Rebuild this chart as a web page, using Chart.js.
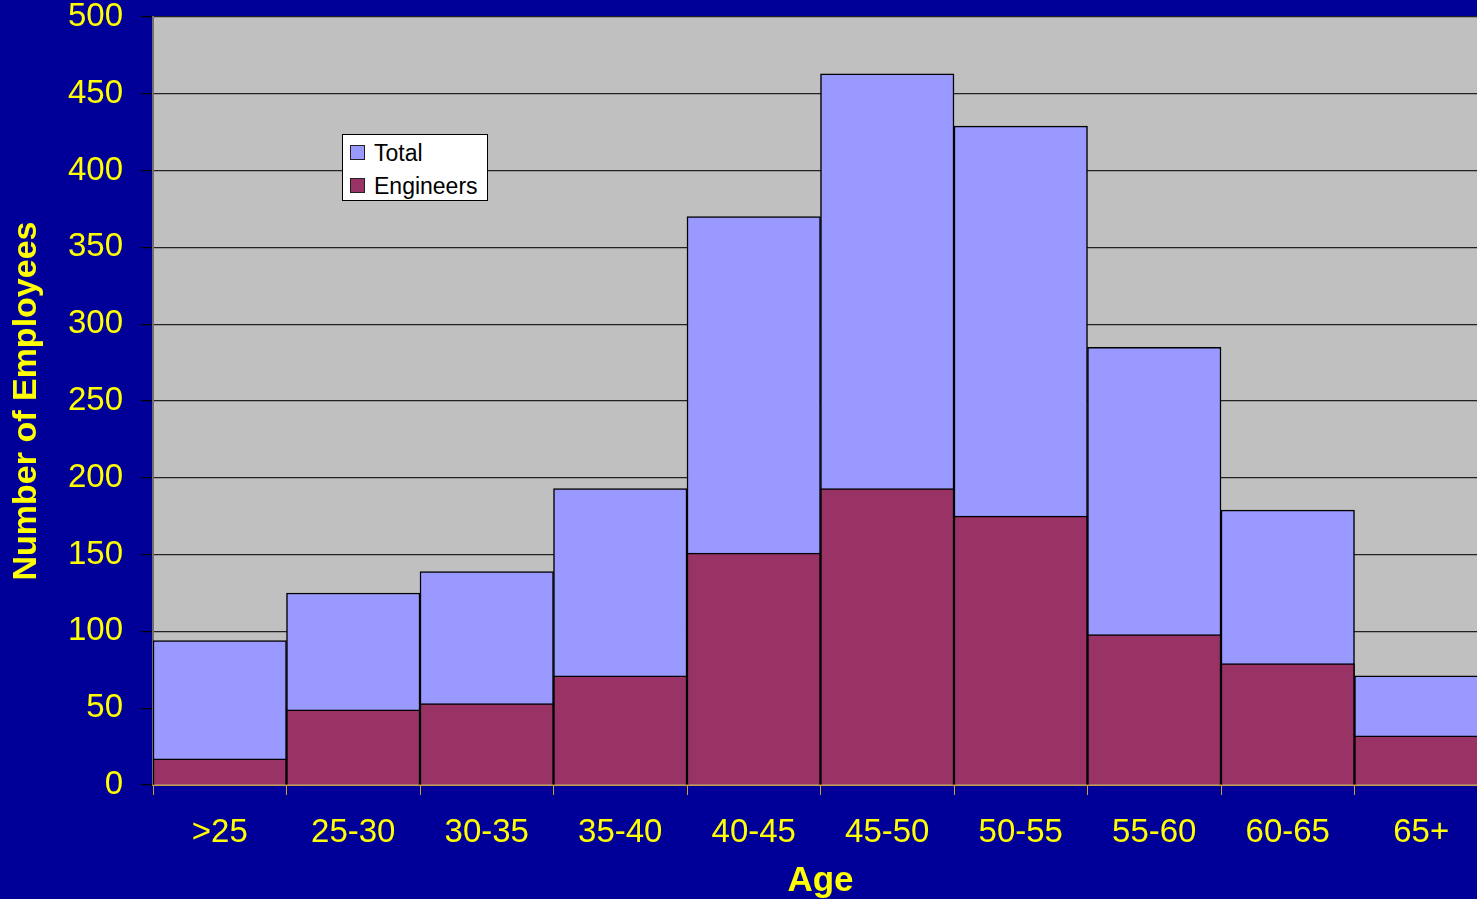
<!DOCTYPE html>
<html>
<head>
<meta charset="utf-8">
<script src="https://cdn.jsdelivr.net/npm/chart.js@4/dist/chart.umd.min.js"></script>
<style>
  html, body { margin: 0; padding: 0; background: #000099; overflow: hidden; }
  #wrap { position: absolute; left: 0; top: 0; width: 1488px; height: 899px; }
  #legend {
    position: absolute; left: 342px; top: 134px; width: 144px; height: 65px;
    background: #fff; border: 1px solid #000;
    font-family: "Liberation Sans", Arial, sans-serif; font-size: 23px; color: #000;
  }
  #legend .item { position: absolute; left: 7px; height: 24px; line-height: 24px; white-space: nowrap; }
  #legend .box { display: inline-block; width: 13px; height: 13px; border: 1px solid #222; vertical-align: middle; margin-right: 9px; position: relative; top: -2px; }
</style>
</head>
<body>
<div id="wrap"><canvas id="ages"></canvas></div>
<div id="legend"></div>
<script>
  const ageGroups = ['>25', '25-30', '30-35', '35-40', '40-45', '45-50', '50-55', '55-60', '60-65', '65+'];
  const totalEmployees = [94, 125, 139, 193, 370, 463, 429, 285, 179, 71];
  const engineers = [17, 49, 53, 71, 151, 193, 175, 98, 79, 32];

  const font = '"Liberation Sans", Arial, sans-serif';
  const yellow = '#FFFF00';

  // gray plot area behind the bars
  const plotBackground = {
    id: 'plotBackground',
    beforeDraw(chart) {
      const { ctx, chartArea } = chart;
      ctx.save();
      ctx.fillStyle = '#C0C0C0';
      ctx.fillRect(chartArea.left, chartArea.top, chartArea.right - chartArea.left, chartArea.bottom - chartArea.top);
      ctx.restore();
    }
  };

  const chart = new Chart(document.getElementById('ages'), {
    type: 'bar',
    data: {
      labels: ageGroups,
      datasets: [
        {
          label: 'Total',
          data: totalEmployees,
          backgroundColor: '#9999FF',
          borderColor: '#000',
          borderWidth: 1.5,
          order: 1
        },
        {
          label: 'Engineers',
          data: engineers,
          backgroundColor: '#993366',
          borderColor: '#000',
          borderWidth: 1.5,
          order: 0
        }
      ]
    },
    options: {
      responsive: true,
      maintainAspectRatio: false,
      animation: false,
      layout: { padding: 0 },
      datasets: { bar: { categoryPercentage: 1, barPercentage: 1 } },
      plugins: {
        legend: { display: false },
        tooltip: { enabled: false }
      },
      scales: {
        x: {
          stacked: true,
          afterFit(scale) { scale.height = 114; },
          grid: {
            offset: true,
            drawOnChartArea: false,
            drawTicks: true,
            tickLength: 10,
            tickColor: '#D0A030'
          },
          border: { color: '#C89B3C', width: 2 },
          ticks: {
            color: yellow,
            padding: 18,
            font: { family: font, size: 33 },
            maxRotation: 0
          },
          title: {
            display: true,
            text: 'Age',
            color: yellow,
            font: { family: font, size: 35, weight: 'bold', lineHeight: 1 },
            padding: { top: 0, bottom: 0 }
          }
        },
        y: {
          stacked: false,
          min: 0,
          max: 500,
          afterFit(scale) {
            scale.width = 153;
            scale.paddingTop = 17;
            scale.paddingBottom = 0;
          },
          grid: {
            color: '#222',
            lineWidth: 1.2,
            tickLength: 12,
            tickColor: '#000'
          },
          border: { color: '#707070', width: 2 },
          ticks: {
            stepSize: 50,
            color: yellow,
            padding: 18,
            font: { family: font, size: 33, lineHeight: 1.03 }
          },
          title: {
            display: true,
            text: 'Number of Employees',
            color: yellow,
            font: { family: font, size: 34, weight: 'bold', lineHeight: 1 },
            padding: { top: 10, bottom: 0 }
          }
        }
      }
    },
    plugins: [plotBackground]
  });

  // legend box inside the plot, built from the datasets
  const legend = document.getElementById('legend');
  chart.data.datasets.forEach(function (ds, i) {
    const item = document.createElement('div');
    item.className = 'item';
    item.style.top = (6 + i * 33) + 'px';
    const box = document.createElement('span');
    box.className = 'box';
    box.style.background = ds.backgroundColor;
    item.appendChild(box);
    item.appendChild(document.createTextNode(ds.label));
    legend.appendChild(item);
  });
</script>
</body>
</html>
